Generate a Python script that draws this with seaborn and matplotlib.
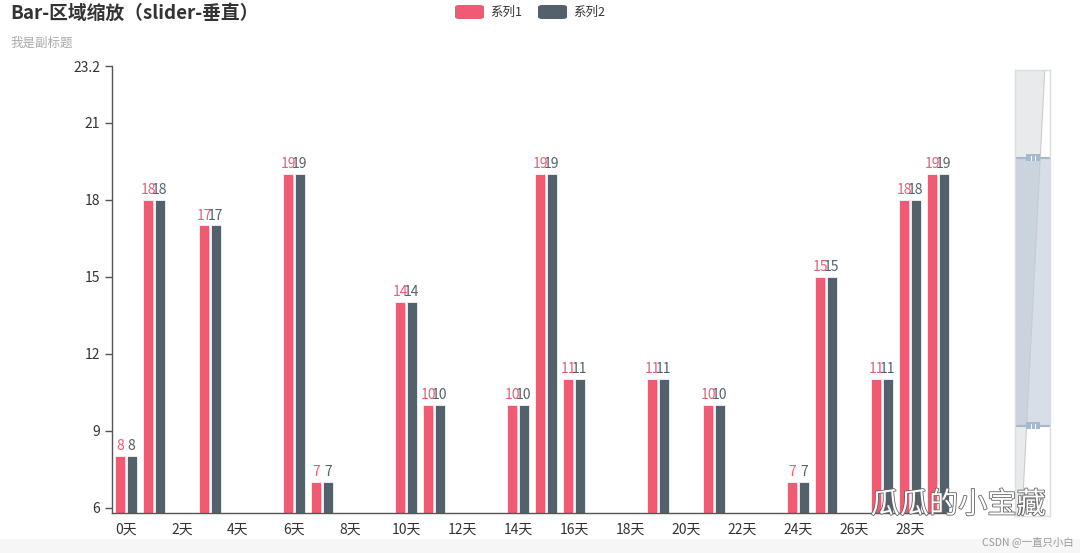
import matplotlib
matplotlib.use("Agg")
import numpy as np
import pandas as pd
import matplotlib.pyplot as plt
import matplotlib.patheffects as pe
from matplotlib.patches import Rectangle, FancyBboxPatch, Polygon
import seaborn as sns

sns.set_style("white")
plt.rcParams['font.family'] = ['Noto Sans CJK SC', 'DejaVu Sans']

# data (categories whose value is below the zoom window are not drawn -> NaN)
days = [f"{i}天" for i in range(30)]
vals1 = [8, 18, np.nan, 17, np.nan, np.nan, 19, 7, np.nan, np.nan,
         14, 10, np.nan, np.nan, 10, 19, 11, np.nan, np.nan, 11,
         np.nan, 10, np.nan, np.nan, 7, 15, np.nan, 11, 18, 19]
vals2 = list(vals1)
series = ["系列1", "系列2"]
colors = ["#ef5b73", "#52616b"]
yticks = [6, 9, 12, 15, 18, 21, 23.2]
ymin, ymax = 5.8, 23.2

df = pd.DataFrame({
    "day": days * 2,
    "value": vals1 + vals2,
    "series": [series[0]] * 30 + [series[1]] * 30,
})

fig = plt.figure(figsize=(10.8, 5.53), dpi=100)
ax = fig.add_axes([0.1037, 0.0729, 0.7778, 0.8074])

sns.barplot(data=df, x="day", y="value", hue="series", order=days,
            hue_order=series, palette=colors, width=0.82, gap=0.12,
            errorbar=None, edgecolor="#f4f4f4", linewidth=0.6,
            legend=False, ax=ax, saturation=1)

for cont, c in zip(ax.containers, colors):
    ax.bar_label(cont, fmt="%g", color=c, fontsize=10, padding=2)

ax.set_ylim(ymin, ymax)
ax.set_xlim(-0.5, 29.5)
ax.set_yticks(yticks)
ax.set_yticklabels(["6", "9", "12", "15", "18", "21", "23.2"])
ax.set_xticks(range(0, 30, 2))
ax.set_xticklabels(days[::2])
ax.set_xticks(np.arange(-0.5, 28, 2), minor=True)
ax.tick_params(axis="x", which="major", length=0, pad=7, labelsize=10, colors="#333333")
ax.tick_params(axis="x", which="minor", length=5, width=1, color="#555555", direction="out")
ax.tick_params(axis="y", length=5, width=1, color="#555555", direction="out",
               labelsize=10, labelcolor="#333333", left=True)
ax.set_xlabel("")
ax.set_ylabel("")
for s in ["top", "right"]:
    ax.spines[s].set_visible(False)
for s in ["left", "bottom"]:
    ax.spines[s].set_color("#555555")
    ax.spines[s].set_linewidth(1)

# title, subtitle
fig.text(0.0093, 0.975, "Bar-区域缩放（slider-垂直）", fontsize=13.5, fontweight="bold",
         color="#333333", va="center", ha="left")
fig.text(0.0093, 0.922, "我是副标题", fontsize=9, color="#aaaaaa", va="center", ha="left")

# legend
for i, (lab, c) in enumerate(zip(series, colors)):
    x0 = 455 + i * 83
    fig.patches.append(FancyBboxPatch((x0 / 1080, 1 - 19 / 553), 29 / 1080, 14 / 553,
                                      boxstyle="round,pad=0,rounding_size=0.004",
                                      transform=fig.transFigure, fc=c, ec="none"))
    fig.text((x0 + 35) / 1080, 1 - 12 / 553, lab, fontsize=9, color="#333333",
             va="center", ha="left")

# vertical slider (dataZoom)
sax = fig.add_axes([1015 / 1080, 1 - 516 / 553, 35 / 1080, 446 / 553])
sax.set_xlim(0, 1)
sax.set_ylim(0, 1)
sax.set_xticks([])
sax.set_yticks([])
for s in sax.spines.values():
    s.set_color("#dddddd")
    s.set_linewidth(1)
lo, hi = 0.202, 0.803
sax.add_patch(Polygon([(0, 0), (0.2, 0), (0.85, 1), (0, 1)], fc="#e9eaec", ec="none"))
sax.plot([0.2, 0.85], [0, 1], color="#c8ccd2", lw=0.8)
sax.add_patch(Rectangle((0, lo), 1, hi - lo, fc="#a7b7cc", alpha=0.45, ec="none"))
for yy in (lo, hi):
    sax.axhline(yy, color="#a7b7cc", lw=1.5)
    sax.add_patch(Rectangle((0.3, yy - 0.008), 0.42, 0.016, fc="#a7b7cc", ec="none", zorder=5))
    sax.plot([0.45, 0.45], [yy - 0.005, yy + 0.005], color="white", lw=0.8, zorder=6)
    sax.plot([0.57, 0.57], [yy - 0.005, yy + 0.005], color="white", lw=0.8, zorder=6)

# watermark and footer
fig.text(0.968, 1 - 505 / 553, "瓜瓜的小宝藏", fontsize=21, color="white", ha="right",
         va="center", path_effects=[pe.withStroke(linewidth=1.2, foreground="#666666")])
fig.patches.append(Rectangle((0, 0), 1, 14 / 553, transform=fig.transFigure,
                             fc="#f6f6f6", ec="none", zorder=-1))
fig.text(0.994, 1 - 542 / 553, "CSDN @一直只小白", fontsize=7.5, color="#999999",
         ha="right", va="center")

fig.savefig("out.png", dpi=100)
